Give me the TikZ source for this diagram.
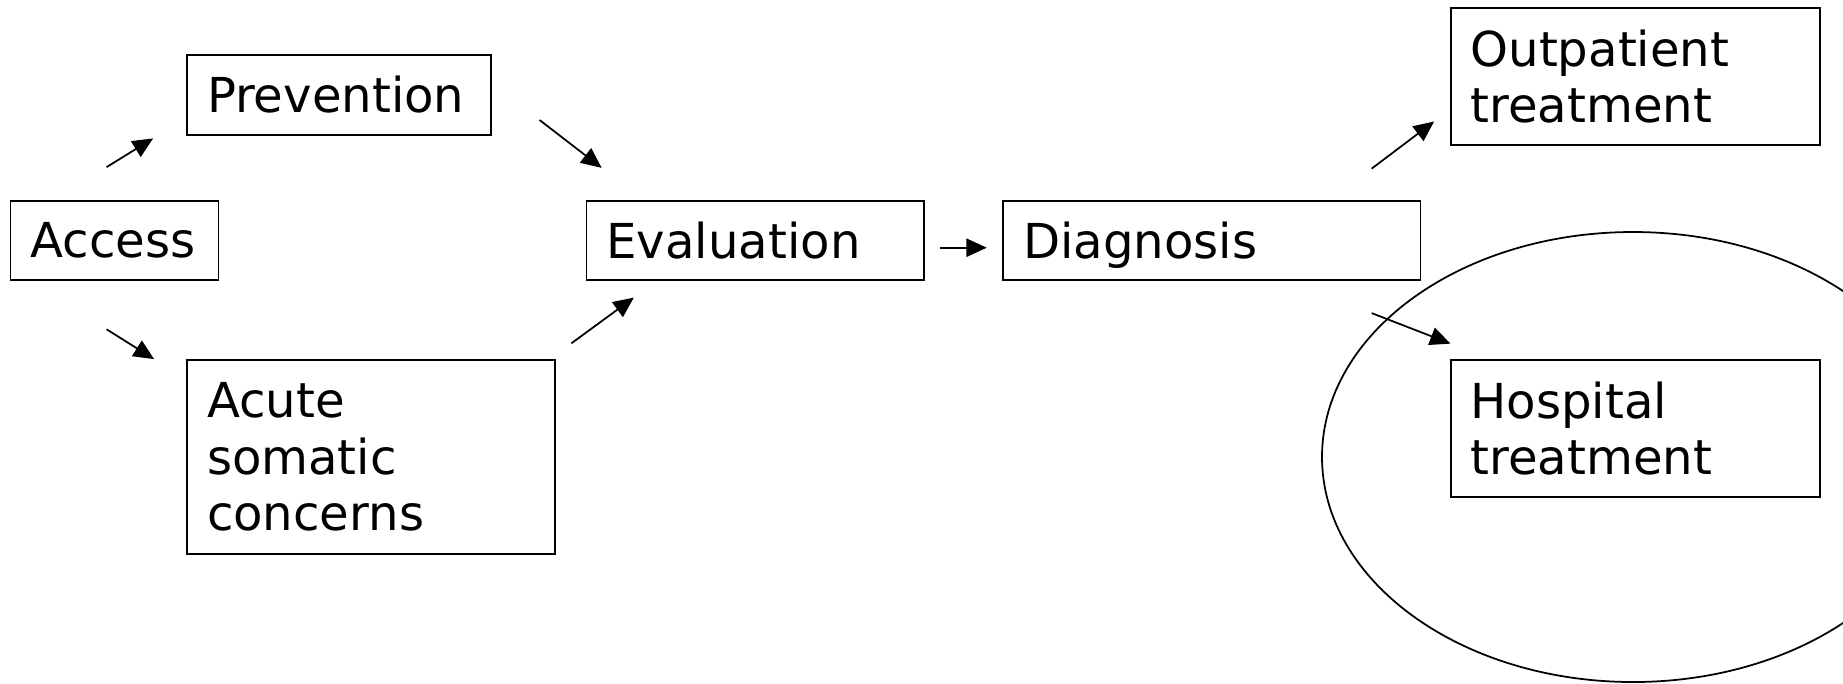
\documentclass[tikz,border=0pt]{standalone}
\usepackage{fontspec}
\setmainfont{DejaVu Sans}
\usetikzlibrary{arrows.meta}

\tikzset{
    box/.style={draw, line width=0.5pt, rectangle, align=left, inner xsep=0.2cm, inner ysep=0pt,
        font=\fontsize{13.7pt}{16pt}\selectfont},
    flow/.style={-{Triangle[length=5.8pt,width=5.2pt]}, line width=0.5pt}
}

\begin{document}
\begin{tikzpicture}

            \useasboundingbox (0,0) rectangle (18.43,-6.83);
            \clip (0,0) rectangle (18.43,-6.83);

            \draw[line width=0.5pt] (16.33,-4.57) ellipse [x radius=3.11, y radius=2.25];

            \node[box, text width=1.68cm, minimum height=0.79cm] (access) at (1.146,-2.405) {Access};
            \node[box, text width=2.64cm, minimum height=0.80cm] (prev) at (3.39,-0.95) {Prevention};
            \node[box, text width=3.28cm, minimum height=1.94cm] (acute) at (3.71,-4.57) {Acute\\somatic\\concerns};
            \node[box, text width=2.976cm, minimum height=0.79cm] (eval) at (7.553,-2.405) {Evaluation};
            \node[box, text width=3.773cm, minimum height=0.79cm, text depth=0pt] (diag) at (12.118,-2.405) {Diagnosis};
            \node[box, text width=3.294cm, minimum height=1.37cm] (outp) at (16.353,-0.765) {Outpatient\\treatment};
            \node[box, text width=3.294cm, minimum height=1.37cm] (hosp) at (16.353,-4.285) {Hospital\\treatment};

            \draw[flow] ([shift={(-0.08,0.33)}]access.north) -- ([shift={(-0.33,-0.025)}]prev.south west);
            \draw[flow] ([shift={(-0.08,-0.484)}]access.south) -- ([shift={(-0.32,0)}]acute.north west);
            \draw[flow] ([shift={(0.477,-0.25)}]prev.east) -- ([shift={(0.16,0.323)}]eval.north west);
            \draw[flow] ([shift={(0.155,0.158)}]acute.north east) -- ([shift={(0.482,-0.167)}]eval.south west);
            \draw[flow] ([shift={(0.149,-0.072)}]eval.east) -- ([shift={(-0.155,-0.072)}]diag.west);
            \draw[flow] ([shift={(-0.497,0.315)}]diag.north east) -- ([shift={(-0.156,0.244)}]outp.south west);
            \draw[flow] ([shift={(-0.497,-0.322)}]diag.south east) -- ([shift={(0.007,0.155)}]hosp.north west);
        \end{tikzpicture}
\end{document}
